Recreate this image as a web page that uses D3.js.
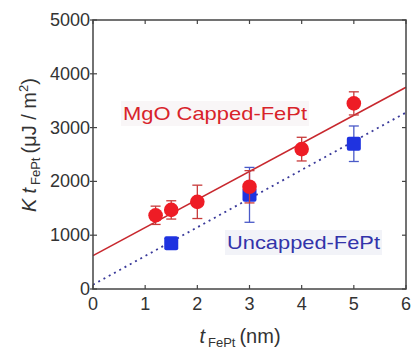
<!DOCTYPE html>
<html><head><meta charset="utf-8">
<script src="https://cdn.jsdelivr.net/npm/d3@7"></script>
<style>body{margin:0;background:#fff}svg{display:block}text{font-family:"Liberation Sans",Arial,sans-serif}</style>
</head><body>
<svg id="c" width="414" height="349"></svg>
<script>
const xTicks = [0,1,2,3,4,5,6];
const yTicks = [0,1000,2000,3000,4000,5000];
const cappedX = [1.2,1.5,2,3,4,5];
const cappedY = [1370,1470,1620,1900,2600,3450];
const cappedErr = [170,170,310,300,220,215];
const uncappedX = [1.5,3,5];
const uncappedY = [850,1750,2700];
const uncappedErr = [0,510,330];
const cappedFit = [[0,620],[6,3750]];
const uncappedFit = [[0,80],[6,3280]];

const svg = d3.select("#c");
const L=93,R=406,T=20,B=289;
const x = d3.scaleLinear().domain([0,6]).range([L,R]);
const y = d3.scaleLinear().domain([0,5000]).range([B,T]);
const axisCol="#444", redC="#ee1c25", redLine="#c8282e", blueC="#1f33e0", blueLine="#3a3a9a";

const g = svg.append("g");

const line = d3.line().x(d=>x(d[0])).y(d=>y(d[1]));
svg.append("path").datum(cappedFit).attr("d",line).attr("stroke",redLine).attr("stroke-width",1.6).attr("fill","none");
svg.append("path").datum(uncappedFit).attr("d",line).attr("stroke",blueLine).attr("stroke-width",1.8).attr("stroke-dasharray","2,4").attr("fill","none");

function errbars(xs,ys,es,col){
  const eg=svg.append("g").attr("stroke",col).attr("stroke-width",1.3).attr("fill","none");
  xs.forEach((xv,i)=>{
    if(!es[i]) return;
    const cx=x(xv), y1=y(ys[i]+es[i]), y2=y(ys[i]-es[i]);
    eg.append("line").attr("x1",cx).attr("x2",cx).attr("y1",y1).attr("y2",y2);
    eg.append("line").attr("x1",cx-5).attr("x2",cx+5).attr("y1",y1).attr("y2",y1);
    eg.append("line").attr("x1",cx-5).attr("x2",cx+5).attr("y1",y2).attr("y2",y2);
  });
}
errbars(uncappedX,uncappedY,uncappedErr,"#4a5ac8");
svg.append("g").selectAll("rect").data(uncappedX).join("rect")
  .attr("x",(d)=>x(d)-7).attr("y",(d,i)=>y(uncappedY[i])-7).attr("width",14).attr("height",14)
  .attr("rx",2).attr("fill",blueC);
errbars(cappedX,cappedY,cappedErr,"#c83a3a");
svg.append("g").selectAll("circle").data(cappedX).join("circle")
  .attr("cx",d=>x(d)).attr("cy",(d,i)=>y(cappedY[i])).attr("r",7.3).attr("fill",redC);

svg.append("rect").attr("x",L).attr("y",T).attr("width",R-L).attr("height",B-T)
  .attr("fill","none").attr("stroke",axisCol).attr("stroke-width",1.5);

const ax = svg.append("g").attr("stroke",axisCol).attr("stroke-width",1.2);
xTicks.forEach(t=>{
  ax.append("line").attr("x1",x(t)).attr("x2",x(t)).attr("y1",B).attr("y2",B-4);
  ax.append("line").attr("x1",x(t)).attr("x2",x(t)).attr("y1",T).attr("y2",T+4);
});
yTicks.forEach(t=>{
  ax.append("line").attr("x1",L-3).attr("x2",L+4).attr("y1",y(t)).attr("y2",y(t));
  ax.append("line").attr("x1",R).attr("x2",R-4).attr("y1",y(t)).attr("y2",y(t));
});
svg.append("g").selectAll("text").data(xTicks).join("text")
  .attr("x",d=>x(d)).attr("y",B+21).attr("text-anchor","middle")
  .attr("font-size",18).attr("fill","#333").text(d=>d);
svg.append("g").selectAll("text").data(yTicks).join("text")
  .attr("x",L-3).attr("y",d=>y(d)+6).attr("text-anchor","end")
  .attr("font-size",18).attr("fill","#333").text(d=>d);

g.append("rect").attr("x",121).attr("y",101).attr("width",188).attr("height",25).attr("fill","#f9f6f7");
g.append("rect").attr("x",225).attr("y",230).attr("width",157).attr("height",25).attr("fill","#f2f3f8");
svg.append("text").attr("x",123).attr("y",120).attr("font-size",19).attr("fill","#d8232a")
  .attr("textLength",184).attr("lengthAdjust","spacingAndGlyphs").text("MgO Capped-FePt");
svg.append("text").attr("x",227).attr("y",249).attr("font-size",19).attr("fill","#3333aa")
  .attr("textLength",153).attr("lengthAdjust","spacingAndGlyphs").text("Uncapped-FePt");

const xt = svg.append("text").attr("x",240).attr("y",343).attr("text-anchor","middle").attr("font-size",20).attr("fill","#333");
xt.append("tspan").attr("font-style","italic").text("t");
xt.append("tspan").attr("font-size",13).attr("dy",4).attr("dx",3).text("FePt");
xt.append("tspan").attr("dy",-4).attr("dx",4).text("(nm)");

const yt = svg.append("text").attr("transform","translate(36,145) rotate(-90)").attr("text-anchor","middle").attr("font-size",20).attr("fill","#333");
yt.append("tspan").attr("font-style","italic").text("K");
yt.append("tspan").attr("font-style","italic").attr("dx",5).text("t");
yt.append("tspan").attr("font-size",13).attr("dy",4).attr("dx",3).text("FePt");
yt.append("tspan").attr("dy",-4).attr("dx",4).text("(μJ / m");
yt.append("tspan").attr("font-size",13).attr("dy",-8).text("2");
yt.append("tspan").attr("dy",8).text(")");
</script>
</body></html>
